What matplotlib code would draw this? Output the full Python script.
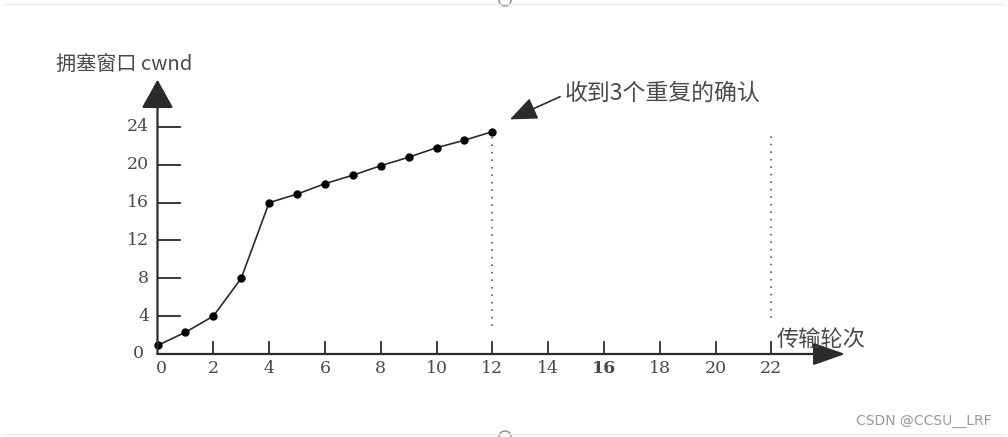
import matplotlib
matplotlib.use("Agg")
import matplotlib.pyplot as plt
from matplotlib.patches import Arc

# ---- data ----
rounds = [0, 1, 2, 3, 4, 5, 6, 7, 8, 9, 10, 11, 12]
cwnd = [0.9, 2.3, 4, 8, 16, 16.9, 18, 18.9, 19.9, 20.8, 21.8, 22.6, 23.5]
x_ticks = [0, 2, 4, 6, 8, 10, 12, 14, 16, 18, 20, 22]
y_ticks = [0, 4, 8, 12, 16, 20, 24]
dotted_x = [12, 22]
dotted_top = [23.0, 23.0]
dotted_bottom = [3.0, 3.8]
ylabel_text = "拥塞窗口 cwnd"
xlabel_text = "传输轮次"
note_text = "收到3个重复的确认"
watermark = "CSDN @CCSU__LRF"

W, H = 1008, 437
fig = plt.figure(figsize=(W / 100, H / 100), dpi=100)
fig.patch.set_facecolor("white")

x0_px, y0_px = 157.5, 354.0
ux, uy = 27.9, 9.46
xmax, ymax = 25.0, 29.5
ax = fig.add_axes([x0_px / W, (H - y0_px) / H, xmax * ux / W, ymax * uy / H])
ax.set_xlim(0, xmax)
ax.set_ylim(0, ymax)
ax.axis("off")

line_c = "#2b2b2b"
text_c = "#4a4a4a"
serif = ["DejaVu Serif"]
cjk = ["Noto Sans CJK SC", "DejaVu Sans"]

# axes with arrows
ax.annotate("", xy=(0, 29.0), xytext=(0, 0),
            arrowprops=dict(arrowstyle="-|>,head_length=0.9,head_width=0.5",
                            mutation_scale=20, color=line_c, lw=1.6,
                            shrinkA=0, shrinkB=0), annotation_clip=False)
ax.annotate("", xy=(24.65, 0), xytext=(0, 0),
            arrowprops=dict(arrowstyle="-|>,head_length=1.0,head_width=0.35",
                            mutation_scale=20, color=line_c, lw=1.6,
                            shrinkA=0, shrinkB=0), annotation_clip=False)

# y ticks (inward, to the right)
for v in y_ticks:
    if v > 0:
        ax.plot([0, 0.8], [v, v], color=line_c, lw=1.3, clip_on=False)
    ax.text(-0.3 if v > 0 else -0.5, v, str(v), ha="right", va="center",
            fontsize=12.5, family=serif, color=text_c)

# x ticks (inward, upward)
for v in x_ticks:
    if v > 0:
        ax.plot([v, v], [0, 1.3], color=line_c, lw=1.3, clip_on=False)
    ax.text(v + (0.15 if v == 0 else 0), -1.5, str(v), ha="center", va="center",
            fontsize=12.5, family=serif, color=text_c,
            fontweight="bold" if v == 16 else "normal")

# data line
ax.plot(rounds, cwnd, color=line_c, lw=1.2, marker="o", markersize=5,
        markerfacecolor="black", markeredgecolor="black", clip_on=False)

# dotted vertical lines
for xd, yt, yb in zip(dotted_x, dotted_top, dotted_bottom):
    ax.plot([xd, xd], [yb, yt], color="#777777", lw=1.5,
            linestyle=(0, (0.8, 2.8)), clip_on=False)

# labels
ax.text(-3.65, 30.5, ylabel_text, ha="left", va="center", fontsize=14.5,
        family=cjk, color=text_c)
ax.text(22.2, 1.5, xlabel_text, ha="left", va="center", fontsize=16,
        family=cjk, color=text_c)

# annotation
ax.annotate("", xy=(12.63, 24.8), xytext=(14.43, 27.2),
            arrowprops=dict(arrowstyle="-|>,head_length=1.2,head_width=0.5",
                            mutation_scale=14, color=line_c, lw=1.2,
                            shrinkA=0, shrinkB=0), annotation_clip=False)
ax.text(14.6, 27.6, note_text, ha="left", va="center", fontsize=16.5,
        family=cjk, color=text_c)

# watermark
fig.text(992 / W, 1 - 421 / H, watermark, ha="right", va="center",
         fontsize=10, family=["DejaVu Sans"], color="#999999")

# faint frame lines & handles (editor screenshot look)
fig.add_artist(plt.Line2D([3 / W, 1 - 3 / W], [1 - 4 / H, 1 - 4 / H],
                          transform=fig.transFigure, color="#eeeeee", lw=1))
fig.add_artist(plt.Line2D([3 / W, 1 - 3 / W], [1 - 434 / H, 1 - 434 / H],
                          transform=fig.transFigure, color="#eeeeee", lw=1))
fig.add_artist(Arc((505 / W, 1 - 0 / H), 12 / W, 12 / H, theta1=180, theta2=360,
                   transform=fig.transFigure, edgecolor="#888888", lw=1))
fig.add_artist(Arc((505 / W, 1 - 437 / H), 12 / W, 12 / H, theta1=0, theta2=180,
                   transform=fig.transFigure, edgecolor="#888888", lw=1))

fig.savefig("out.png", dpi=100, facecolor="white")
